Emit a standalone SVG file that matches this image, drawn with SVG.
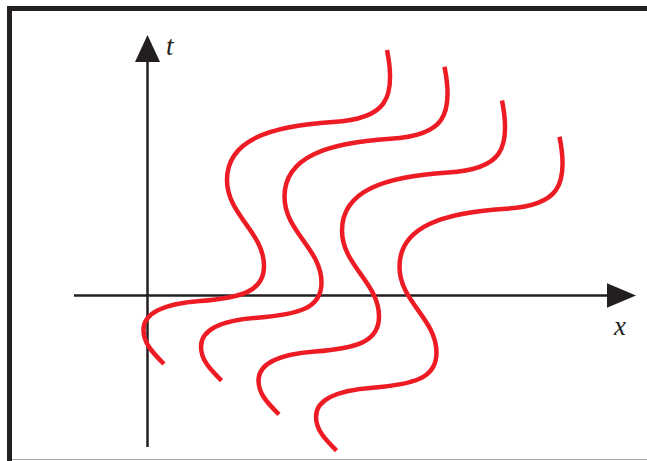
<svg xmlns="http://www.w3.org/2000/svg" xmlns:xlink="http://www.w3.org/1999/xlink" width="647" height="461" viewBox="0 0 647 461">
  <style>
    .axis { stroke: #231F20; stroke-width: 2.5; fill: none; }
    .head { fill: #231F20; }
    .wave { stroke: #ED1C24; stroke-width: 4.5; fill: none; }
    .lbl { font-family: "Liberation Serif", "DejaVu Serif", serif; font-style: italic; font-size: 27px; fill: #231F20; }
  </style>
  <defs>
    <path id="wavePath" d="M387,50 C397,100 385,119 333,122 C270,126 227,140 227,180 C227,215 264,232 264,266 C264,292 240,298 200,301 C160,304 143.5,315 143.5,330 C143.5,343 152,352 164,364"/>
  </defs>
  <rect x="0" y="0" width="647" height="461" fill="#ffffff"/>
  <g id="frame">
    <rect x="7" y="6" width="640" height="5" fill="#231F20"/>
    <rect x="7" y="6" width="5" height="455" fill="#231F20"/>
    <line x1="12" y1="459.5" x2="647" y2="459.5" stroke="#A7A9AC" stroke-width="1.2"/>
  </g>
  <g id="axes">
    <line class="axis" x1="147.5" y1="447" x2="147.5" y2="58"/>
    <polygon class="head" points="147.5,35 135,62 160,62"/>
    <line class="axis" x1="74" y1="295.5" x2="610" y2="295.5"/>
    <polygon class="head" points="636,295.5 607,283.3 607,307.7"/>
  </g>
  <g id="labels">
    <text class="lbl" x="166" y="55">t</text>
    <text class="lbl" x="614" y="335">x</text>
  </g>
  <g id="connectors">
    <use id="wave1" class="wave" xlink:href="#wavePath" href="#wavePath"/>
    <use id="wave2" class="wave" xlink:href="#wavePath" href="#wavePath" transform="translate(57.5,16.7)"/>
    <use id="wave3" class="wave" xlink:href="#wavePath" href="#wavePath" transform="translate(115,50.5)"/>
    <use id="wave4" class="wave" xlink:href="#wavePath" href="#wavePath" transform="translate(172.5,86.7)"/>
  </g>
</svg>
